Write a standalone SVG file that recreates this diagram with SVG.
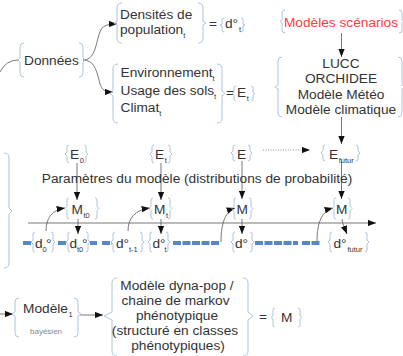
<svg xmlns="http://www.w3.org/2000/svg" width="403" height="356" viewBox="0 0 403 356">
<defs>
<marker id="ah" viewBox="0 0 9 7" refX="9" refY="3.5" markerWidth="8.5" markerHeight="6.5" markerUnits="userSpaceOnUse" orient="auto"><path d="M0,0 L9,3.5 L0,7 z" fill="#111"/></marker>
<style>
text{font-family:"Liberation Sans",Arial,sans-serif;font-size:13.7px;fill:#333}
.sub{font-size:7.5px}
.small{font-size:8px;fill:#888}
.red{fill:#ff3b3b}
.br{fill:none;stroke:#aec4e2;stroke-width:1}
.cn{fill:none;stroke:#555;stroke-width:0.8}
.arr{fill:none;stroke:#555;stroke-width:0.8;marker-end:url(#ah)}
.dash{fill:none;stroke:#5787c8;stroke-width:4;stroke-dasharray:8 1.5}
</style>
</defs>
<rect width="403" height="356" fill="#fff"/>

<g id="connectors">
<path class="cn" d="M0,72 Q6,60 18,60"/>
<path class="arr" d="M83,60 C93,60 95,50 98,38 C101,27 103,24 117,24"/>
<path class="arr" d="M83,60 C93,60 96,68 99,80 C101,89 103,92 113,92"/>
<path class="arr" d="M341.5,33 L341.5,57"/>
<path class="arr" d="M341.5,117 L341.5,144"/>
<path class="arr" d="M263,150 L310,150" style="stroke:#777;stroke-dasharray:1 1.5"/>
<path class="arr" d="M77,163 L77,200"/>
<path class="arr" d="M161,163 L161,200"/>
<path class="arr" d="M242,161 L242,199"/>
<path class="arr" d="M341.5,161 L341.5,199"/>
<path class="arr" d="M28,223 L376,223"/>
<path class="arr" d="M78,219 L78,234"/>
<path class="arr" d="M161,219 L161,234"/>
<path class="arr" d="M242,219 L242,234"/>
<path class="arr" d="M342,219 C343,226 345,229 347,234"/>
<path class="arr" d="M46,231 C46,218 52,210 65,208"/>
<path class="arr" d="M128,231 C128,218 135,210 150,208"/>
<path class="arr" d="M221,242 C221,222 226,211 235,208"/>
<path class="arr" d="M317,242 C317,222 322,211 333,208"/>
<path class="arr" d="M0,314 L13,314"/>
<path class="arr" d="M80,315 L103,315"/>
<path class="dash" d="M23,243 H32 M58,243 H67 M90,243 H97 M102,243 H112 M173,243 H220 M255,243 H298 M302,243 H320"/>
</g>

<g id="donnees">
<path class="br" d="M24,43 Q20,43 20,47 V58 L18,60 L20,62 V73 Q20,77 24,77 M79,43 Q83,43 83,47 V58 L85,60 L83,62 V73 Q83,77 79,77"/>
<text x="24" y="65">Données</text>
</g>

<g id="densites">
<path class="br" d="M122,3 Q117,3 117,8 V21 L114,23 L117,25 V38 Q117,43 122,43 M198,3 Q203,3 203,8 V21 L206,23 L203,25 V38 Q203,43 198,43"/>
<text x="120" y="19">Densités de</text>
<text x="120" y="34">population<tspan class="sub" dy="4">t</tspan></text>
</g>

<g id="d-t">
<text x="209" y="28">=</text>
<path class="br" d="M224,18 Q222,18 222,20 V24 L220,25 L222,26 V30 Q222,32 224,32 M241,18 Q243,18 243,20 V24 L245,25 L243,26 V30 Q243,32 241,32"/>
<text x="225" y="28">d°<tspan class="sub" dx="1" dy="4">t</tspan></text>
</g>

<g id="environnement">
<path class="br" d="M118,64 Q113,64 113,69 V91 L110,93.5 L113,96 V118 Q113,123 118,123 M217,64 Q222,64 222,69 V91 L225,93.5 L222,96 V118 Q222,123 217,123"/>
<text x="120.5" y="77">Environnement<tspan class="sub" dy="4">t</tspan></text>
<text x="120.5" y="95">Usage des sols<tspan class="sub" dy="4">t</tspan></text>
<text x="120.5" y="112">Climat<tspan class="sub" dy="4">t</tspan></text>
</g>

<g id="e-t">
<text x="226" y="97">=</text>
<path class="br" d="M236,86 Q234,86 234,88 V92 L232,93.5 L234,95 V99 Q234,101 236,101 M251,86 Q253,86 253,88 V92 L255,93.5 L253,95 V99 Q253,101 251,101"/>
<text x="237" y="97">E<tspan class="sub" dx="0.5" dy="4">t</tspan></text>
</g>

<g id="scenarios">
<path class="br" d="M285,10 Q282,10 282,13 V20 L280,21.5 L282,23 V30 Q282,33 285,33 M399,10 Q402,10 402,13 V20 L404,21.5 L402,23 V30 Q402,33 399,33"/>
<text class="red" x="341" y="27" text-anchor="middle">Modèles scénarios</text>
</g>

<g id="lucc">
<path class="br" d="M282,57 Q278,57 278,61 V85 L275,87 L278,89 V113 Q278,117 282,117 M398,57 Q402,57 402,61 V85 L405,87 L402,89 V113 Q402,117 398,117"/>
<text x="341" y="67.5" text-anchor="middle">LUCC</text>
<text x="341" y="83" text-anchor="middle">ORCHIDEE</text>
<text x="341" y="98.5" text-anchor="middle">Modèle Météo</text>
<text x="341" y="114" text-anchor="middle">Modèle climatique</text>
</g>

<g id="params">
<text x="197" y="183" text-anchor="middle">Paramètres du modèle (distributions de probabilité)</text>
<path class="br" d="M4,153 Q9,153 9,158 V208 L12,211 L9,214 V263 Q9,268 4,268"/>
</g>

<g id="e0">
<path class="br" d="M69,145 Q67,145 67,147 V152 L65,154 L67,156 V161 Q67,163 69,163 M84,145 Q86,145 86,147 V152 L88,154 L86,156 V161 Q86,163 84,163"/>
<text x="70" y="159">E<tspan class="sub" dx="0.5" dy="4">0</tspan></text>
</g>
<g id="et">
<path class="br" d="M154,145 Q152,145 152,147 V152 L150,154 L152,156 V161 Q152,163 154,163 M168,145 Q170,145 170,147 V152 L172,154 L170,156 V161 Q170,163 168,163"/>
<text x="155" y="159">E<tspan class="sub" dx="0.5" dy="4">t</tspan></text>
</g>
<g id="e">
<path class="br" d="M235,145 Q233,145 233,147 V151 L231,153 L233,155 V159 Q233,161 235,161 M248,145 Q250,145 250,147 V151 L252,153 L250,155 V159 Q250,161 248,161"/>
<text x="237" y="159">E</text>
</g>
<g id="efutur">
<path class="br" d="M325,145 Q323,145 323,147 V151 L321,153 L323,155 V159 Q323,161 325,161 M356,145 Q358,145 358,147 V151 L360,153 L358,155 V159 Q358,161 356,161"/>
<text x="329" y="159">E<tspan class="sub" dx="0.5" dy="4">futur</tspan></text>
</g>

<g id="mt0">
<path class="br" d="M69,198 Q67,198 67,200 V206.5 L65,208.5 L67,210.5 V217 Q67,219 69,219 M95,198 Q97,198 97,200 V206.5 L99,208.5 L97,210.5 V217 Q97,219 95,219"/>
<text x="71.5" y="214">M<tspan class="sub" dx="0.5" dy="4">t0</tspan></text>
</g>
<g id="mt">
<path class="br" d="M153,198 Q151,198 151,200 V206.5 L149,208.5 L151,210.5 V217 Q151,219 153,219 M168,198 Q170,198 170,200 V206.5 L172,208.5 L170,210.5 V217 Q170,219 168,219"/>
<text x="154" y="214">M<tspan class="sub" dx="0.5" dy="4">t</tspan></text>
</g>
<g id="m">
<path class="br" d="M236,198 Q234,198 234,200 V206.5 L232,208.5 L234,210.5 V217 Q234,219 236,219 M249,198 Q251,198 251,200 V206.5 L253,208.5 L251,210.5 V217 Q251,219 249,219"/>
<text x="236.5" y="214">M</text>
</g>
<g id="mfutur">
<path class="br" d="M336,198 Q334,198 334,200 V206.5 L332,208.5 L334,210.5 V217 Q334,219 336,219 M348,198 Q350,198 350,200 V206.5 L352,208.5 L350,210.5 V217 Q350,219 348,219"/>
<text x="336" y="214">M</text>
</g>

<g id="d0">
<path class="br" d="M35,232 Q33,232 33,234 V240 L31,242 L33,244 V250 Q33,252 35,252 M51,232 Q53,232 53,234 V240 L55,242 L53,244 V250 Q53,252 51,252"/>
<text x="35" y="248">d<tspan class="sub" x="42.5" y="252">0</tspan><tspan x="46" y="248">°</tspan></text>
</g>
<g id="dt0">
<path class="br" d="M70,232 Q68,232 68,234 V240 L66,242 L68,244 V250 Q68,252 70,252 M86,232 Q88,232 88,234 V240 L90,242 L88,244 V250 Q88,252 86,252"/>
<text x="69.5" y="248">d<tspan class="sub" x="77" y="252">t0</tspan><tspan x="82" y="248">°</tspan></text>
</g>
<g id="dt1">
<path class="br" d="M115,232 Q113,232 113,234 V240 L111,242 L113,244 V250 Q113,252 115,252 M140,232 Q142,232 142,234 V240 L144,242 L142,244 V250 Q142,252 140,252"/>
<text x="116" y="248">d°<tspan class="sub" x="129" y="252">t-1</tspan></text>
</g>
<g id="dt">
<path class="br" d="M152,232 Q150,232 150,234 V240 L148,242 L150,244 V250 Q150,252 152,252 M166,232 Q168,232 168,234 V240 L170,242 L168,244 V250 Q168,252 166,252"/>
<text x="152.5" y="248">d°<tspan class="sub" x="164.5" y="252">t</tspan></text>
</g>
<g id="d">
<path class="br" d="M235,232 Q233,232 233,234 V240 L231,242 L233,244 V250 Q233,252 235,252 M250,232 Q252,232 252,234 V240 L254,242 L252,244 V250 Q252,252 250,252"/>
<text x="235" y="248">d°</text>
</g>
<g id="dfutur">
<path class="br" d="M332,232 Q330,232 330,234 V240 L328,242 L330,244 V250 Q330,252 332,252 M365,232 Q367,232 367,234 V240 L369,242 L367,244 V250 Q367,252 365,252"/>
<text x="333.5" y="248">d°<tspan class="sub" x="347.5" y="252">futur</tspan></text>
</g>

<g id="modele1">
<path class="br" d="M19,298 Q15,298 15,302 V312 L12,314 L15,316 V333 Q15,337 19,337 M74,298 Q78,298 78,302 V312 L81,314 L78,316 V333 Q78,337 74,337"/>
<text x="23" y="313">Modèle<tspan class="sub" dx="0.5" dy="4">1</tspan></text>
<text class="small" x="30" y="334">bayésien</text>
</g>

<g id="dynapop">
<path class="br" d="M117,278 Q112,278 112,283 V312 L104,316 L112,320 V351 Q112,356 117,356 M243,278 Q248,278 248,283 V312 L253,316 L248,320 V351 Q248,356 243,356"/>
<text x="177" y="290" text-anchor="middle">Modèle dyna-pop /</text>
<text x="175.5" y="305" text-anchor="middle">chaine de markov</text>
<text x="177" y="320" text-anchor="middle">phénotypique</text>
<text x="175" y="335" text-anchor="middle">(structuré en classes</text>
<text x="178" y="350" text-anchor="middle">phénotypiques)</text>
</g>

<g id="m-result">
<text x="259" y="321">=</text>
<path class="br" d="M275,308 Q273,308 273,310 V316 L271,317.5 L273,319 V325 Q273,327 275,327 M298,308 Q300,308 300,310 V316 L302,317.5 L300,319 V325 Q300,327 298,327"/>
<text x="281" y="322">M</text>
</g>
</svg>
